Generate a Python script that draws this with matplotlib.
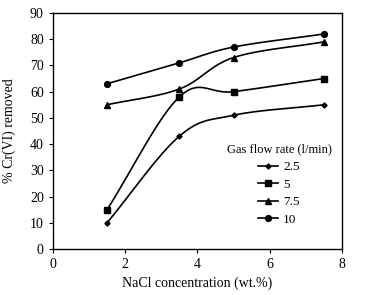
import numpy as np
import matplotlib
matplotlib.use("Agg")
import matplotlib.pyplot as plt

plt.rcParams['font.family'] = ['Liberation Serif', 'DejaVu Serif']

nacl = [1.5, 3.5, 5, 7.5]
series_labels = ['2.5', '5', '7.5', '10']
s25 = [10, 43, 51, 55]
s5 = [15, 58, 60, 65]
s75 = [55, 61, 73, 79]
s10 = [63, 71, 77, 82]
markers = ['D', 's', '^', 'o']
msizes = [2.6, 4.2, 4.2, 4.2]


def smooth(x, y, n=40, t=1/6):
    x = np.asarray(x, float); y = np.asarray(y, float)
    px, py = [], []
    m = len(x)
    for i in range(m - 1):
        i0 = max(i - 1, 0); i3 = min(i + 2, m - 1)
        p0 = np.array([x[i], y[i]]); p1 = np.array([x[i + 1], y[i + 1]])
        c1 = p0 + t * (np.array([x[i + 1], y[i + 1]]) - np.array([x[i0], y[i0]])) * (2 if i == 0 else 1)
        c2 = p1 - t * (np.array([x[i3], y[i3]]) - np.array([x[i], y[i]])) * (2 if i + 1 == m - 1 else 1)
        s = np.linspace(0, 1, n)[:, None]
        pts = (1 - s) ** 3 * p0 + 3 * (1 - s) ** 2 * s * c1 + 3 * (1 - s) * s ** 2 * c2 + s ** 3 * p1
        px.extend(pts[:, 0]); py.extend(pts[:, 1])
    return px, py


fig = plt.figure(figsize=(3.8, 2.95), dpi=100)
ax = fig.add_axes([0.139, 0.156, 0.761, 0.80])

for ys, lab, mk, ms in zip([s25, s5, s75, s10], series_labels, markers, msizes):
    sx, sy = smooth(nacl, ys)
    ax.plot(sx, sy, color='black', lw=1.2)
    ax.plot(nacl, ys, linestyle='none', marker=mk, ms=ms, color='black')
    ax.plot([], [], color='black', lw=1.2, marker=mk, ms=ms, label=lab)

ax.set_xlim(0, 8)
ax.set_ylim(0, 90)
ax.set_xticks([0, 2, 4, 6, 8])
ax.set_yticks(range(0, 91, 10))
ax.tick_params(direction='out', length=3, labelsize=10, top=False, right=False)
for sp in ax.spines.values():
    sp.set_linewidth(1.0)
ax.set_xlabel('NaCl concentration (wt.%)', fontsize=10, labelpad=4)
ax.set_ylabel('% Cr(VI) removed', fontsize=10, labelpad=10)

leg = ax.legend(title='Gas flow rate (l/min)', loc='center', frameon=False,
                fontsize=9.5, title_fontsize=9, handlelength=1.5, handletextpad=0.4,
                labelspacing=0.4, bbox_to_anchor=(0.782, 0.272))

fig.savefig('out.png', dpi=100)
